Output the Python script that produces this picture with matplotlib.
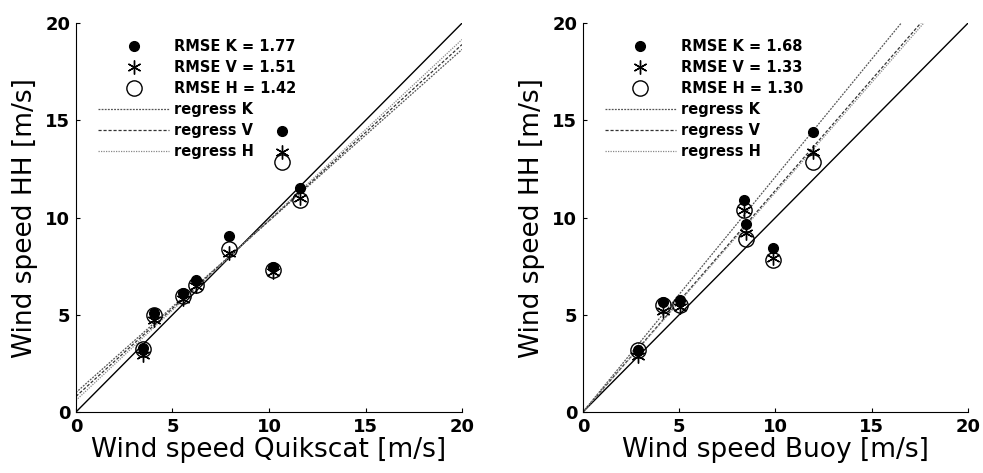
import matplotlib
matplotlib.use("Agg")
import matplotlib.pyplot as plt
import numpy as np

# Quikscat comparison
qs_x = [3.49, 4.06, 5.56, 6.22, 7.93, 10.22, 10.66, 11.60]
qs_k = [3.30, 5.10, 6.10, 6.80, 9.05, 7.45, 14.45, 11.50]
qs_v = [2.95, 4.75, 5.80, 6.50, 8.20, 7.20, 13.38, 11.00]
qs_h = [3.25, 5.00, 5.95, 6.55, 8.40, 7.30, 12.87, 10.90]
qs_rmse = [1.77, 1.51, 1.42]
qs_slope = [0.8825, 0.905, 0.928]
qs_icpt = [1.00, 0.80, 0.60]

# Buoy comparison
by_x = [2.87, 4.17, 5.04, 8.36, 8.47, 9.89, 11.96]
by_k = [3.19, 5.67, 5.77, 10.90, 9.67, 8.42, 14.38]
by_v = [2.88, 5.20, 5.40, 10.40, 9.19, 7.90, 13.38]
by_h = [3.20, 5.50, 5.50, 10.39, 8.88, 7.81, 12.84]
by_rmse = [1.68, 1.33, 1.30]
by_slope = [1.21, 1.14, 1.13]
by_icpt = [0.00, 0.00, 0.00]

labels = ["K", "V", "H"]
ticks = [0, 5, 10, 15, 20]

fig = plt.figure(figsize=(9.83, 4.73), dpi=100)
ax1 = fig.add_axes([0.0773, 0.129, 0.3927, 0.822])
ax2 = fig.add_axes([0.593, 0.129, 0.3917, 0.822])

asterisk = (6, 2, 0)


def panel(ax, x, k, v, h, rmse, slope, icpt, xlabel):
    xs = np.array([0, 20.0])
    ax.plot(xs, xs, color="black", lw=1.0, zorder=1)
    hk, = ax.plot(x, k, "o", color="black", ms=7, zorder=3, label=f"RMSE K = {rmse[0]:.2f}")
    hv, = ax.plot(x, v, marker=asterisk, ls="none", color="black", ms=10, mew=1.0,
                  zorder=4, label=f"RMSE V = {rmse[1]:.2f}")
    hh, = ax.plot(x, h, "o", mfc="none", mec="black", ms=11, mew=1.0, zorder=5,
                  label=f"RMSE H = {rmse[2]:.2f}")
    styles = [(0, (1.5, 1.0)), (0, (2.5, 1.5)), (0, (1.0, 1.0))]
    greys = ["#555555", "#333333", "#888888"]
    rl = []
    for s, b, lab, st, c in zip(slope, icpt, labels, styles, greys):
        l, = ax.plot(xs, s * xs + b, ls=st, color=c, lw=0.9, zorder=2, label=f"regress {lab}")
        rl.append(l)
    ax.set_xlim(0, 20)
    ax.set_ylim(0, 20)
    ax.set_xticks(ticks)
    ax.set_yticks(ticks)
    ax.tick_params(direction="in", length=3, width=0.8, labelsize=13, pad=4)
    for t in ax.get_xticklabels() + ax.get_yticklabels():
        t.set_fontweight("bold")
    ax.spines["top"].set_visible(False)
    ax.spines["right"].set_visible(False)
    ax.set_xlabel(xlabel, fontsize=19, labelpad=1)
    ax.set_ylabel("Wind speed HH [m/s]", fontsize=19, labelpad=5)
    leg = ax.legend(handles=[hk, hv, hh] + rl, loc="upper left", bbox_to_anchor=(0.03, 0.985),
                    frameon=False, prop={"weight": "bold", "size": 10.5}, handlelength=4.9,
                    handletextpad=0.35, labelspacing=0.41, borderpad=0.2)
    return leg


panel(ax1, qs_x, qs_k, qs_v, qs_h, qs_rmse, qs_slope, qs_icpt, "Wind speed Quikscat [m/s]")
panel(ax2, by_x, by_k, by_v, by_h, by_rmse, by_slope, by_icpt, "Wind speed Buoy [m/s]")

fig.savefig("out.png", dpi=100)
